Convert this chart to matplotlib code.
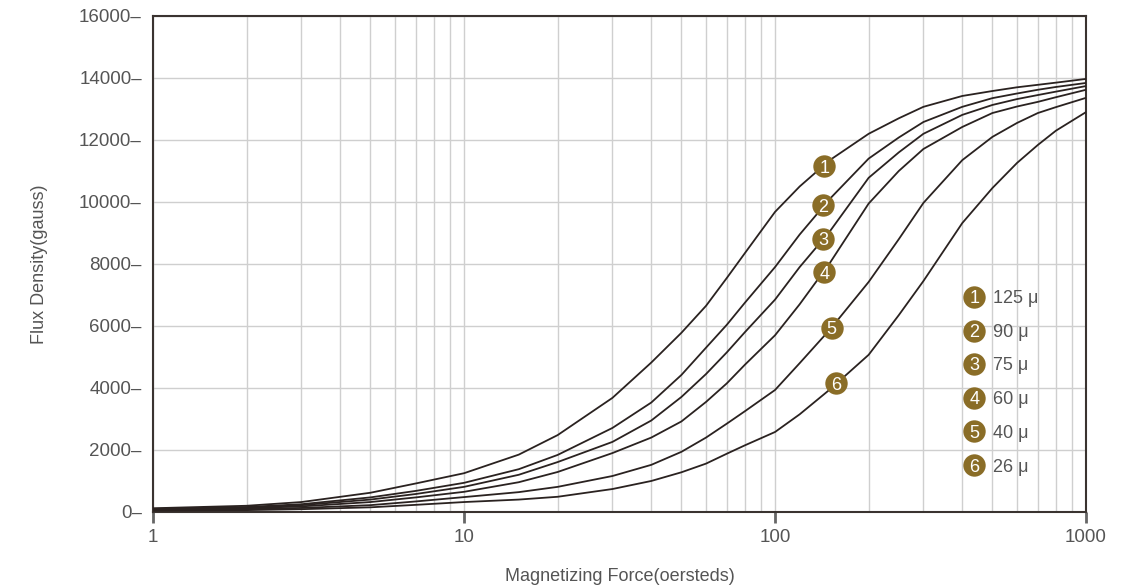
import matplotlib.pyplot as plt
from matplotlib.ticker import FixedLocator, NullFormatter

plt.rcParams['font.family'] = ['Liberation Sans', 'DejaVu Sans']

# magnetizing force (oersteds)
H = [1, 2, 3, 5, 7, 10, 15, 20, 30, 40, 50, 60, 70, 80, 100, 120, 150, 200,
     250, 300, 400, 500, 600, 700, 800, 1000]

# flux density (gauss) per permeability grade
b_125 = [120, 200, 320, 620, 920, 1250, 1850, 2480, 3680, 4820, 5780, 6650, 7550, 8350,
         9680, 10500, 11350, 12200, 12700, 13070, 13420, 13580, 13700, 13780, 13850, 13970]
b_90 = [100, 160, 250, 470, 680, 940, 1380, 1840, 2710, 3530, 4420, 5300, 6040, 6750,
        7900, 8950, 10100, 11400, 12080, 12580, 13070, 13350, 13500, 13620, 13710, 13840]
b_75 = [90, 140, 220, 400, 580, 810, 1200, 1610, 2260, 2950, 3710, 4450, 5150, 5800,
        6850, 7900, 9050, 10780, 11600, 12200, 12810, 13130, 13320, 13450, 13560, 13740]
b_60 = [80, 120, 180, 320, 470, 650, 960, 1290, 1900, 2400, 2920, 3550, 4150, 4750,
        5700, 6700, 8030, 9950, 11000, 11710, 12420, 12870, 13080, 13230, 13380, 13620]
b_40 = [60, 90, 130, 220, 340, 480, 640, 810, 1160, 1520, 1940, 2400, 2850, 3250,
        3935, 4800, 5880, 7420, 8800, 9970, 11350, 12100, 12550, 12870, 13060, 13360]
b_26 = [40, 60, 90, 150, 230, 320, 400, 490, 740, 1000, 1280, 1560, 1880, 2150,
        2580, 3150, 3950, 5070, 6350, 7450, 9320, 10450, 11260, 11840, 12300, 12900]

series = [b_125, b_90, b_75, b_60, b_40, b_26]
labels = ["125 μ", "90 μ", "75 μ", "60 μ", "40 μ", "26 μ"]

# numbered badges sitting on the curves
badge_h = [144, 143, 143, 144, 152, 157]
badge_b = [11160, 9900, 8810, 7740, 5935, 4160]

# key on the right
key_h = 437
key_b = [6935, 5840, 4775, 3680, 2610, 1515]

gold = "#8a6d27"
line_col = "#2a2220"
txt_col = "#555555"

fig = plt.figure(figsize=(11.3, 5.88), dpi=100)
ax = fig.add_axes([0.1354, 0.1293, 0.8257, 0.8435])

for b in series:
    ax.plot(H, b, color=line_col, lw=1.3, zorder=3, solid_joinstyle="round")

for i in range(6):
    ax.scatter(badge_h[i], badge_b[i], s=260, color=gold, zorder=4, linewidths=0)
    ax.text(badge_h[i], badge_b[i], str(i + 1), color="white", fontsize=13,
            ha="center", va="center_baseline", zorder=5)
    ax.scatter(key_h, key_b[i], s=260, color=gold, zorder=4, linewidths=0)
    ax.text(key_h, key_b[i], str(i + 1), color="white", fontsize=13,
            ha="center", va="center_baseline", zorder=5)
    ax.text(key_h * 1.15, key_b[i], labels[i], color=txt_col, fontsize=13,
            ha="left", va="center_baseline", zorder=5)

ax.set_xscale("log")
ax.set_xlim(1, 1000)
ax.set_ylim(0, 16000)

ax.xaxis.set_major_locator(FixedLocator([1, 10, 100, 1000]))
ax.set_xticklabels(["1", "10", "100", "1000"])
minors = [m * d for d in (1, 10, 100) for m in range(2, 10)]
ax.xaxis.set_minor_locator(FixedLocator(minors))
ax.xaxis.set_minor_formatter(NullFormatter())

yt = list(range(0, 16001, 2000))
ax.set_yticks(yt)
ax.set_yticklabels([f"{v}–" for v in yt])

ax.grid(True, which="both", axis="x", color="#cfcfcf", lw=1)
ax.grid(True, which="major", axis="y", color="#cfcfcf", lw=1)
ax.set_axisbelow(True)

ax.tick_params(axis="y", length=0, pad=8, labelsize=13.5, labelcolor=txt_col)
ax.tick_params(axis="x", which="major", length=8, width=2, color="#666666",
               direction="out", pad=4, labelsize=13.5, labelcolor=txt_col)
ax.tick_params(axis="x", which="minor", length=0)

for s in ax.spines.values():
    s.set_color("#3a3330")
    s.set_linewidth(1.5)

ax.set_xlabel("Magnetizing Force(oersteds)", fontsize=13, color=txt_col, labelpad=16)
ax.set_ylabel("Flux Density(gauss)", fontsize=13, color=txt_col, labelpad=22)

fig.savefig("out.png", dpi=100)
